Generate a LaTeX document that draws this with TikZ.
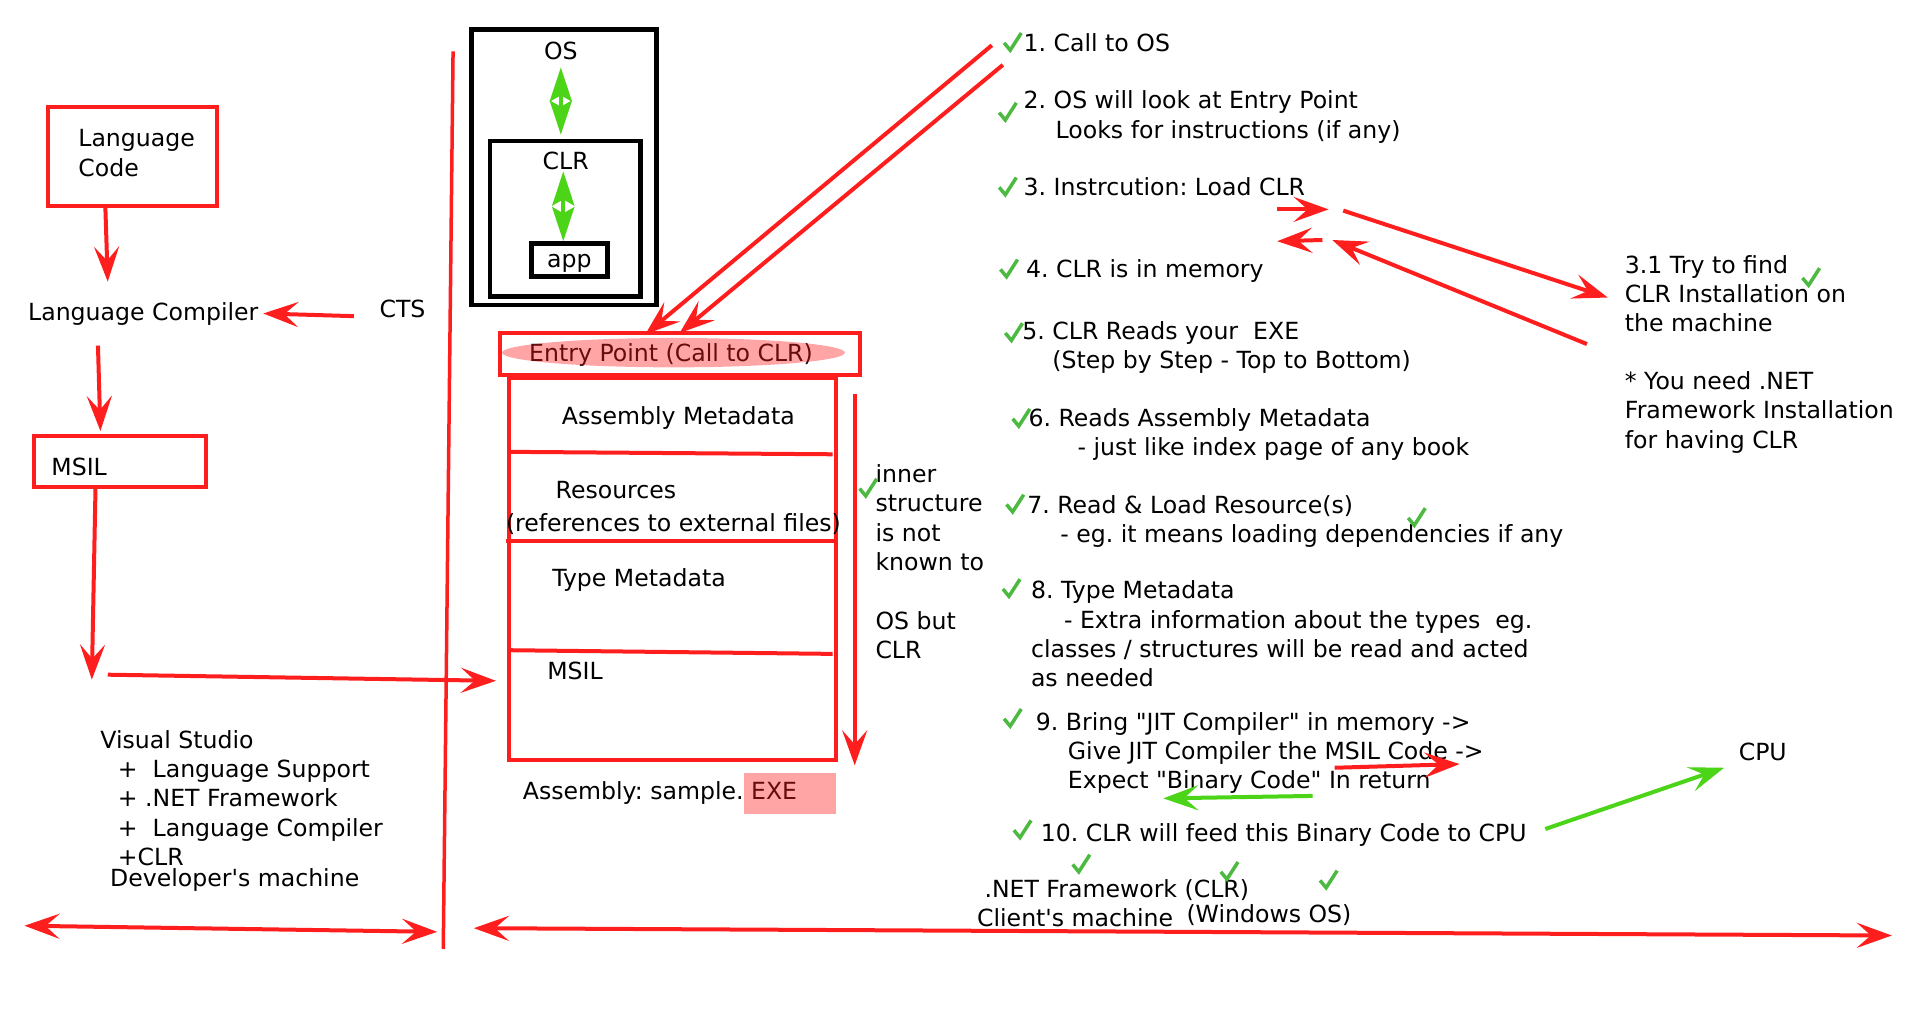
\documentclass[tikz,border=0pt]{standalone}
\usepackage{fontspec}
\setmainfont{DejaVu Sans}
\newfontfamily\dvs{DejaVu Sans}
\usetikzlibrary{arrows.meta,fit,calc}
\definecolor{rred}{RGB}{255,30,30}
\definecolor{agreen}{RGB}{76,212,24}
\definecolor{cgreen}{RGB}{76,185,64}
\newcommand\chk[2]{\draw[chk] (#1-6,#2) -- (#1-1,#2+6) -- (#1+8,#2-8);}
\tikzset{
  bigtip/.tip={Stealth[length=35pt,width=25pt,inset=14pt]},
  kitetip/.tip={Stealth[length=34pt,width=22pt,inset=6pt]},
}
\frenchspacing
\begin{document}
\frenchspacing
\begin{tikzpicture}[x=1.2245pt,y=-1.2245pt,
  every node/.style={font=\dvs\fontsize{23.6}{29.4}\selectfont\frenchspacing, inner sep=0pt, outer sep=0pt},
  txt/.style={anchor=north west, align=left, yshift=-1.2pt},
  ctxt/.style={anchor=center, align=center, yshift=-1.2pt},
  rbox/.style={draw=rred, line width=4pt, fit={#1}},
  kbox/.style={draw=black, line width=4.5pt, fit={#1}},
  rl/.style={draw=rred, line width=4pt},
  ra/.style={rl, -bigtip},
  rda/.style={rl, bigtip-bigtip},
  ga/.style={draw=agreen, line width=4pt, -bigtip},
  gda/.style={draw=agreen, line width=4pt, kitetip-kitetip},
  chk/.style={draw=cgreen, line width=3.5pt},
  hilite/.style={fill=rred, fill opacity=0.4}
]
\fill[white] (0,0) rectangle (1568,831);
\useasboundingbox (0,0) rectangle (1568,831);

% ---------- developer side ----------
\node[rbox={(39,87) (177,168)}] (lcbox) {};
\node[txt] (lctext) at (64,102.2) {\strut Language\\Code};
\node[txt] (lcomp) at (23,244.2) {\strut Language Compiler};
\node[txt] (cts) at (310,241.2) {\strut CTS};
\node[rbox={(28,356) (168,398)}] (msilbox) {};
\node[txt] (msiltext) at (42,370.2) {\strut MSIL};
\node[txt] (vs) at (82,593.2) {\strut Visual Studio\\\hspace*{17.5pt}+\ \ Language Support\\\hspace*{17.5pt}+ .NET Framework\\\hspace*{17.5pt}+\ \ Language Compiler\\\hspace*{17.5pt}+CLR};
\node[txt] (dev) at (90,706.2) {\strut Developer's machine};

\draw[ra] ($(lcbox.south)+(-22,0)$) -- ($(lcbox.south)+(-20,62)$);
\draw[ra] ($(cts.west)+(-21,4)$) -- (215,256);
\draw[ra] ($(lcomp.south west)+(57,13)$) -- ($(msilbox.north)+(-16,-4)$);
\draw[ra] ($(msilbox.south)+(-20,0)$) -- ($(msilbox.south)+(-23,157)$);

% divider
\coordinate (divtop) at (370,42);
\coordinate (divbot) at (362,775);
\draw[rl, line width=3.5pt] (divtop) -- (divbot);

% ---------- OS / CLR / app ----------
\node[kbox={(385,24) (536,249)}] (osbox) {};
\node[kbox={(400,115) (523,242)}] (clrbox) {};
\node[kbox={(434,199) (496,226)}] (appbox) {};
\node[ctxt] (os) at (458,42.5) {\strut OS};
\node[ctxt] (clr) at (462,132.5) {\strut CLR};
\node[ctxt] (app) at (465,213) {\strut app};
\draw[gda] (458,55) -- ($(clrbox.north)+(-3.5,-5)$);
\draw[gda] (460,140) -- ($(appbox.north)+(-5,-2)$);

% ---------- assembly ----------
\node[rbox={(408,272) (702,306)}] (epbox) {};
\node[ctxt] (ep) at (548,289.5) {\strut Entry Point (Call to CLR)};
\fill[hilite] (550,288) ellipse [x radius=140, y radius=12];
\node[rbox={(416,309) (683,621)}] (asmbox) {};
\draw[rl] (416,369) -- (680,371);
\draw[rl] (413,442) -- (683,442);
\draw[rl] (416,531) -- (680,534);
\node[ctxt] (amd) at (554,340.5) {\strut Assembly Metadata};
\node[ctxt] (res) at (503,401.5) {\strut Resources};
\node[ctxt] (refs) at (550,428.5) {\strut (references to external files)};
\node[txt] (tmd) at (451,461.2) {\strut Type Metadata};
\node[txt] (amsil) at (447,537.2) {\strut MSIL};
\node[txt] (asml) at (427,635.2) {\strut Assembly: sample. EXE};
\fill[hilite] (608,631) rectangle (683,665);
\draw[ra] ($(asmbox.east)+(15,-143)$) -- ($(asmbox.east)+(15,160)$);
\draw[ra] ($(msilbox.south)+(-10,153)$) -- ($(asmbox.west)+(-11,91)$);
\node[txt] (inner) at (715,376.2) {\strut inner\\structure\\is not\\known to\\[29.4pt]OS but\\CLR};

% ---------- client steps ----------
\node[txt] (t1) at (836,24.2) {\strut 1. Call to OS};
\node[txt] (t2) at (836,71.2) {\strut 2. OS will look at Entry Point\\\hspace*{32pt}Looks for instructions (if any)};
\node[txt] (t3) at (836,142.2) {\strut 3. Instrcution: Load CLR};
\node[txt] (t4) at (838,209.2) {\strut 4. CLR is in memory};
\node[txt] (t5) at (835,259.2) {\strut 5. CLR Reads your\ \ EXE\\\hspace*{30pt}(Step by Step - Top to Bottom)};
\node[txt] (t6) at (840,330.2) {\strut 6. Reads Assembly Metadata\\\hspace*{49pt}- just like index page of any book};
\node[txt] (t7) at (839,401.2) {\strut 7. Read \& Load Resource(s)\\\hspace*{33pt}- eg. it means loading dependencies if any};
\node[txt] (t8) at (842,471.2) {\strut 8. Type Metadata\\\hspace*{33pt}- Extra information about the types\ \ eg.\\classes / structures will be read and acted\\as needed};
\node[txt, font=\dvs\fontsize{23.6}{28.8}\selectfont\frenchspacing] (t9) at (846,579.2) {\strut 9. Bring "JIT Compiler" in memory ->\\\hspace*{32pt}Give JIT Compiler the MSIL Code ->\\\hspace*{32pt}Expect "Binary Code" In return};
\node[txt] (t10) at (850,669.2) {\strut 10. CLR will feed this Binary Code to CPU};
\node[txt] (cpu) at (1420,603.2) {\strut CPU};
\node[txt] (net) at (804,715.2) {\strut .NET Framework (CLR)};
\node[txt] (client) at (798,739.2) {\strut Client's machine};
\node[txt] (winos) at (969,735.2) {\strut (Windows OS)};
\node[txt] (t31) at (1327,205.2) {\strut 3.1 Try to find\\CLR Installation on\\the machine};
\node[txt] (need) at (1327,300.2) {\strut * You need .NET\\Framework Installation\\for having CLR};

\coordinate (d1) at (810,37); \coordinate (d2) at (819,53);
\draw[ra] (d1) -- ($(epbox.north)+(-28,1)$);
\draw[ra] (d2) -- (epbox.north);

\coordinate (s1a) at (1043,171); \coordinate (s1b) at (1085,171);
\coordinate (s2a) at (1080,196); \coordinate (s2b) at (1043,197);
\draw[ra] (s1a) -- (s1b);
\draw[ra] (s2a) -- (s2b);
\coordinate (l1a) at (1097,172); \coordinate (l1b) at (1313,243);
\draw[ra] (l1a) -- (l1b);
\coordinate (l2a) at (1296,281); \coordinate (l2b) at (1088,196);
\draw[ra] (l2a) -- (l2b);

\coordinate (j1a) at (1090,627); \coordinate (j1b) at (1192,624);
\coordinate (j2a) at (1072,650); \coordinate (j2b) at (950,652);
\draw[ra] (j1a) -- (j1b);
\draw[ga] (j2a) -- (j2b);
\coordinate (cpuout) at (1262,677); \coordinate (cpuin) at (1408,627);
\draw[ga] (cpuout) -- (cpuin);

% bottom arrows
\coordinate (bl1) at (20,756); \coordinate (bl2) at (357,761);
\coordinate (br1) at (387,758); \coordinate (br2) at (1545,764);
\draw[rda] (bl1) -- (bl2);
\draw[rda] (br1) -- (br2);

% checks
\chk{826}{35}
\chk{822}{92}
\chk{822}{153}
\chk{823}{220}
\chk{827}{272}
\chk{833}{342}
\chk{828}{412}
\chk{1156}{423}
\chk{825}{481}
\chk{826}{587}
\chk{834}{678}
\chk{882}{706}
\chk{1003}{712}
\chk{1084}{719}
\chk{708}{399}
\chk{1478}{227}
\end{tikzpicture}
\end{document}
